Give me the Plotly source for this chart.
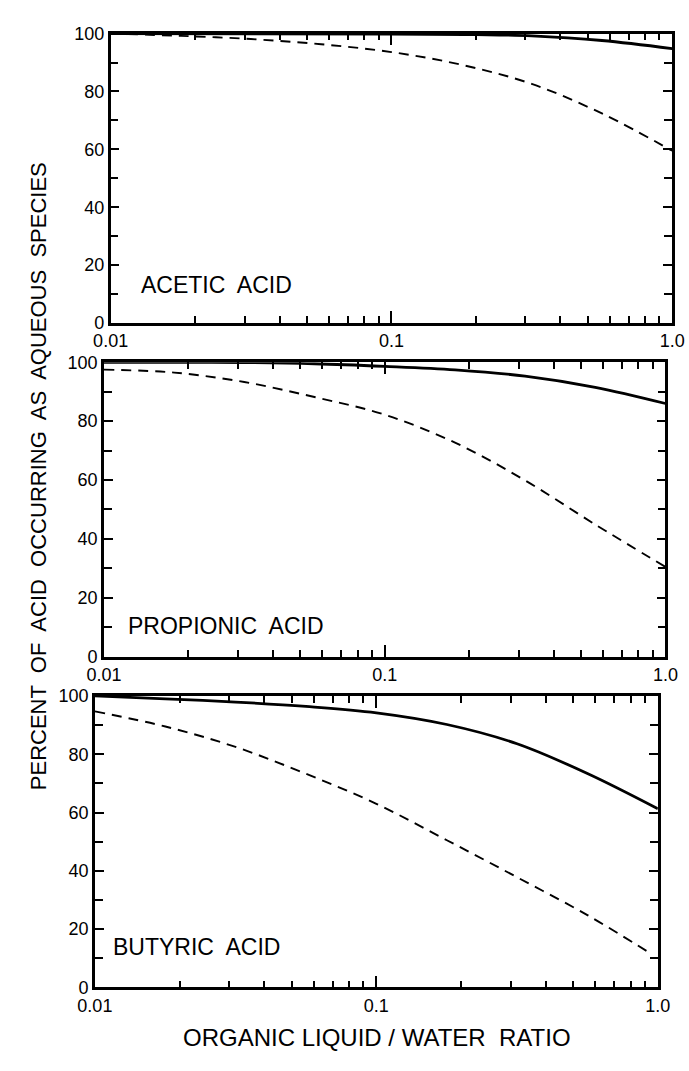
import plotly.graph_objects as go

# ---------------- data ----------------
ratio = [0.01, 0.0178, 0.0316, 0.0562, 0.1, 0.178, 0.316, 0.562, 1.0]

acetic_solid_x = [0.01, 0.1, 0.2, 0.316, 0.562, 1.0]
acetic_solid_y = [100, 99.8, 99.6, 99.2, 97.6, 94.8]
acetic_dash_x = ratio
acetic_dash_y = [100, 99.2, 98.1, 96.3, 93.6, 89.2, 82.6, 72.4, 59.5]

propionic_solid_x = ratio
propionic_solid_y = [100, 99.95, 99.9, 99.5, 98.6, 97.4, 95.3, 91.5, 86.0]
propionic_dash_x = ratio
propionic_dash_y = [97.5, 96.5, 93.3, 88.2, 82.2, 72.7, 59.9, 44.9, 30.5]

butyric_solid_x = ratio
butyric_solid_y = [100, 99.0, 97.9, 96.4, 94.2, 90.2, 83.6, 73.4, 61.3]
butyric_dash_x = [0.01, 0.0178, 0.0316, 0.0562, 0.1, 0.178, 0.316, 0.562, 0.94]
butyric_dash_y = [94.7, 89.5, 82.5, 73.3, 63.0, 50.5, 37.8, 24.8, 11.7]

panel_names = ["ACETIC  ACID", "PROPIONIC  ACID", "BUTYRIC  ACID"]

x_major_vals = [0.01, 0.1, 1.0]
x_major_text = ["0.01", "0.1", "1.0"]
x_minor_vals = [0.02, 0.03, 0.04, 0.05, 0.06, 0.07, 0.08, 0.09,
                0.2, 0.3, 0.4, 0.5, 0.6, 0.7, 0.8, 0.9]
y_major_vals = [0, 20, 40, 60, 80, 100]
y_minor_vals = [10, 30, 50, 70, 90]

x_title = "ORGANIC LIQUID / WATER  RATIO"
y_title = "PERCENT  OF  ACID  OCCURRING  AS  AQUEOUS  SPECIES"

# ---------------- figure ----------------
W, H = 689, 1071
FONT = "Liberation Sans, Arial, sans-serif"

panels = [
    (acetic_solid_x, acetic_solid_y, acetic_dash_x, acetic_dash_y),
    (propionic_solid_x, propionic_solid_y, propionic_dash_x, propionic_dash_y),
    (butyric_solid_x, butyric_solid_y, butyric_dash_x, butyric_dash_y),
]
# pixel boxes (left, right, top, bottom)
boxes = [(97, 685, 24, 319), (90, 678, 359, 659), (80.5, 670, 699, 996)]
label_pos = [(-1.898, 13), (-1.92, 10.5), (-1.944, 14)]

fig = go.Figure()
for i, (sx, sy, dx, dy) in enumerate(panels):
    xa = "x" if i == 0 else f"x{i+1}"
    ya = "y" if i == 0 else f"y{i+1}"
    fig.add_trace(go.Scatter(x=sx, y=sy, mode="lines", xaxis=xa, yaxis=ya,
                             line=dict(color="black", width=2.8, shape="spline", smoothing=1.0),
                             showlegend=False, hoverinfo="skip"))
    fig.add_trace(go.Scatter(x=dx, y=dy, mode="lines", xaxis=xa, yaxis=ya,
                             line=dict(color="black", width=1.9, dash="10px,7px",
                                       shape="spline", smoothing=1.0),
                             showlegend=False, hoverinfo="skip"))

layout = dict(width=W, height=H, margin=dict(l=0, r=0, t=0, b=0),
              paper_bgcolor="white", plot_bgcolor="white",
              font=dict(family=FONT, color="black"), showlegend=False)

for i, (l, r, t, b) in enumerate(boxes):
    xk = "xaxis" if i == 0 else f"xaxis{i+1}"
    yk = "yaxis" if i == 0 else f"yaxis{i+1}"
    ya = "y" if i == 0 else f"y{i+1}"
    xa = "x" if i == 0 else f"x{i+1}"
    layout[xk] = dict(type="log", range=[-2, 0], domain=[l / W, r / W], anchor=ya,
                      tickmode="array", tickvals=x_major_vals, ticktext=x_major_text,
                      ticks="inside", ticklen=12, tickwidth=2, tickcolor="black",
                      showline=True, linewidth=2.6, linecolor="black", mirror="ticks",
                      showgrid=False, zeroline=False,
                      tickfont=dict(size=18, family=FONT, color="black"),
                      minor=dict(tickmode="array", tickvals=x_minor_vals, ticks="inside",
                                 ticklen=7, tickwidth=1.6, tickcolor="black", showgrid=False))
    layout[yk] = dict(range=[0, 100], domain=[1 - b / H, 1 - t / H], anchor=xa,
                      tickmode="array", tickvals=y_major_vals,
                      ticks="inside", ticklen=9, tickwidth=2, tickcolor="black",
                      showline=True, linewidth=2.6, linecolor="black", mirror="ticks",
                      showgrid=False, zeroline=False,
                      tickfont=dict(size=18, family=FONT, color="black"),
                      minor=dict(tickmode="array", tickvals=y_minor_vals, ticks="inside",
                                 ticklen=8, tickwidth=1.6, tickcolor="black", showgrid=False))

fig.update_layout(**layout)

for i, name in enumerate(panel_names):
    xa = "x" if i == 0 else f"x{i+1}"
    ya = "y" if i == 0 else f"y{i+1}"
    lx, ly = label_pos[i]
    fig.add_annotation(x=lx, y=ly, xref=xa, yref=ya, text=name, showarrow=False,
                       xanchor="left", yanchor="middle",
                       font=dict(size=23, family=FONT, color="black"))

fig.add_annotation(x=376 / W, y=1 - 1047 / H, xref="paper", yref="paper", text=x_title,
                   showarrow=False, xanchor="center", yanchor="middle",
                   font=dict(size=24, family=FONT, color="black"))
fig.add_annotation(x=21 / W, y=1 - 475 / H, xref="paper", yref="paper", text=y_title,
                   showarrow=False, xanchor="center", yanchor="middle", textangle=-90,
                   font=dict(size=22, family=FONT, color="black"))

fig.write_html("out.html")
